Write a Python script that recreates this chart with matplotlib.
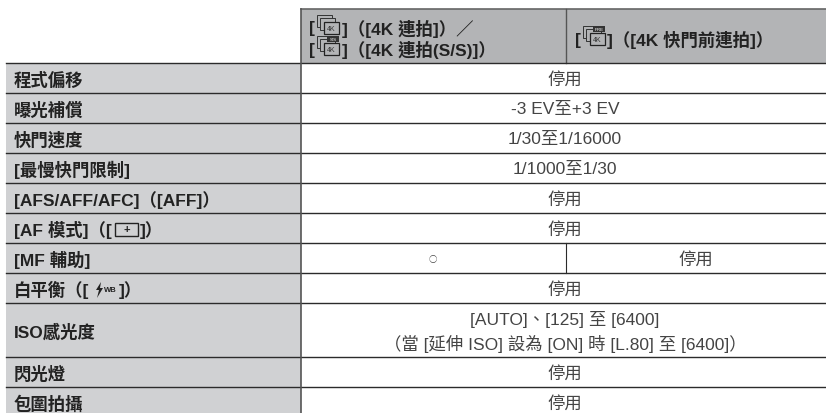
import matplotlib
matplotlib.use('Agg')
import matplotlib.pyplot as plt
from matplotlib.patches import Polygon, Rectangle

plt.rcParams['font.family'] = ['Liberation Sans', 'Noto Sans CJK TC', 'DejaVu Sans']

W, H = 826, 414

row_labels = ['程式偏移', '曝光補償', '快門速度', '[最慢快門限制]', '[AFS/AFF/AFC]（[AFF]）',
              '[AF 模式]（[', '[MF 輔助]', '白平衡（[', 'ISO感光度', '閃光燈', '包圍拍攝']
row_values = ['停用', '-3 EV至+3 EV', '1/30至1/16000', '1/1000至1/30', '停用', '停用',
              None, '停用', None, '停用', '停用']
mf_values = ['○', '停用']
iso_values = ['[AUTO]、[125] 至 [6400]', '（當 [延伸 ISO] 設為 [ON] 時 [L.80] 至 [6400]）']
header_left = [']（[4K 連拍]）／', ']（[4K 連拍(S/S)]）']
header_right = ']（[4K 快門前連拍]）'
row_lines = [64, 94, 124, 154, 184, 214, 244, 274, 304, 358, 388, 418]

LEFT, COL1, COL2, RIGHT = 6, 301, 566, 826
GRAY = '#d0d1d3'
HEAD = '#b3b4b6'
LINE = '#2b2b2b'
DARK = '#222222'
BODY = '#444444'

fig = plt.figure(figsize=(W / 100, H / 100), dpi=100)
ax = fig.add_axes([0, 0, 1, 1])
ax.set_xlim(0, W)
ax.set_ylim(H, 0)
ax.axis('off')


def drive_icon(x, y, tag=None):
    # stacked frames used for the drive mode glyphs
    for d, w, h in ((0, 15, 12), (3, 15, 12)):
        ax.add_patch(Rectangle((x + d, y + d), w, h, fc=HEAD, ec='#333333', lw=0.7))
    ax.add_patch(Rectangle((x + 7, y + 7), 15, 12, fc=HEAD, ec='#222222', lw=0.9))
    ax.text(x + 14.5, y + 13.2, '4K', fontsize=5, color='#333333', ha='center', va='center')
    if tag:
        ax.add_patch(Rectangle((x + 10, y), 12, 6, fc='#333333', ec='none'))
        ax.text(x + 16, y + 3, tag, fontsize=3.2, color='white', ha='center', va='center')


def bold(x, y, s, size=12.5):
    ax.text(x, y, s, fontsize=size, fontweight='bold', va='center', color=DARK)


def body(x, y, s, size=12.5, **kw):
    ax.text(x, y, s, fontsize=size, ha='center', va='center', color=BODY, **kw)


# header
ax.add_patch(Rectangle((COL1, 10), RIGHT - COL1, 54, fc=HEAD, ec='none'))
ax.plot([COL1, RIGHT], [10, 10], color='#666666', lw=1.2)
ax.plot([COL2, COL2], [10, 64], color='#555555', lw=1)
for y, s, tag in ((29, header_left[0], None), (50, header_left[1], 'S/S')):
    bold(309, y, '[')
    drive_icon(317, y - 13, tag)
    bold(342, y, s)
bold(575, 40, '[')
drive_icon(583, 27, 'PRE')
bold(607, 40, header_right)

# body
ax.add_patch(Rectangle((LEFT, 64), COL1 - LEFT, H - 64, fc=GRAY, ec='none'))
for y in row_lines:
    ax.plot([LEFT, RIGHT], [y, y], color=LINE, lw=1)
ax.plot([COL1, COL1], [10, H], color='#555555', lw=1.2)
ax.plot([COL2, COL2], [244, 274], color=LINE, lw=0.8)

for i, label in enumerate(row_labels):
    mid = (row_lines[i] + row_lines[i + 1]) / 2 + 1
    bold(14, mid, label)
    if row_values[i] is not None:
        body(565, mid, row_values[i])

# MF row is split in two cells
body(433, 260, mf_values[0], size=6, family='Noto Sans CJK TC')
body(696, 260, mf_values[1])

# ISO row has two lines
body(565, 320, iso_values[0])
body(565, 344, iso_values[1])

# AF mode glyph
ax.add_patch(Rectangle((115, 224), 23, 13, fc=GRAY, ec=DARK, lw=1))
ax.text(126.5, 230, '+', fontsize=8, fontweight='bold', ha='center', va='center', color=DARK)
bold(140, 230, ']）')

# flash white balance glyph
ax.add_patch(Polygon([(101, 283), (96, 291), (99, 291), (97, 299), (103, 289), (100, 289)], fc=DARK, ec='none'))
ax.text(110.5, 291, 'WB', fontsize=5.5, fontweight='bold', ha='center', va='center', color=DARK)
bold(119, 290, ']）')

fig.savefig('out.png', dpi=100)
